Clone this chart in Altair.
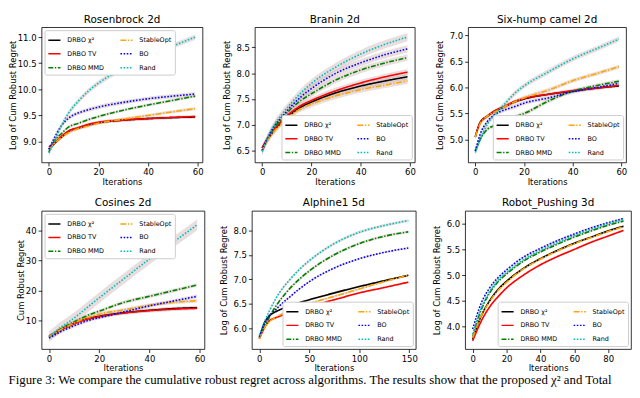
import altair as alt
import pandas as pd

# ---------------- data ----------------
METHODS = ["DRBO χ²", "DRBO TV", "DRBO MMD", "StableOpt", "BO", "Rand"]
COLORS = {"DRBO χ²": "#000000", "DRBO TV": "#ff0000", "DRBO MMD": "#008000",
          "StableOpt": "#ffa500", "BO": "#0000ff", "Rand": "#00bfbf"}
DASHES = {"DRBO χ²": [1, 0], "DRBO TV": [1, 0], "DRBO MMD": [5, 1.6, 1.4, 1.6],
          "StableOpt": [6, 1.6, 1.4, 1.6], "BO": [1.6, 1.6], "Rand": [1.6, 1.6]}

x60 = [0, 2, 5, 8, 12, 16, 20, 30, 40, 50, 59]

ros_chi2 = [8.85, 8.95, 9.08, 9.20, 9.26, 9.32, 9.36, 9.41, 9.44, 9.46, 9.47]
ros_tv = [8.90, 8.97, 9.10, 9.20, 9.27, 9.33, 9.37, 9.41, 9.44, 9.46, 9.48]
ros_mmd = [8.80, 9.00, 9.15, 9.28, 9.35, 9.42, 9.48, 9.60, 9.70, 9.79, 9.87]
ros_stable = [8.85, 8.95, 9.08, 9.17, 9.25, 9.30, 9.35, 9.43, 9.50, 9.57, 9.63]
ros_bo = [8.85, 9.05, 9.30, 9.45, 9.55, 9.61, 9.66, 9.75, 9.82, 9.87, 9.91]
ros_rand = [8.78, 8.98, 9.30, 9.55, 9.78, 9.97, 10.12, 10.40, 10.63, 10.83, 11.00]
ros_std = [0.03, 0.03, 0.03, 0.03, 0.04, 0.05]

bra_chi2 = [6.55, 6.70, 6.90, 7.05, 7.22, 7.35, 7.44, 7.62, 7.75, 7.85, 7.93]
bra_tv = [6.55, 6.72, 6.92, 7.08, 7.25, 7.38, 7.47, 7.66, 7.81, 7.93, 8.02]
bra_mmd = [6.50, 6.70, 6.95, 7.12, 7.32, 7.48, 7.60, 7.87, 8.06, 8.20, 8.30]
bra_stable = [6.50, 6.68, 6.88, 7.03, 7.20, 7.32, 7.40, 7.56, 7.68, 7.77, 7.85]
bra_bo = [6.50, 6.72, 6.98, 7.15, 7.37, 7.55, 7.70, 8.00, 8.20, 8.36, 8.47]
bra_rand = [6.48, 6.72, 7.00, 7.20, 7.43, 7.63, 7.80, 8.12, 8.37, 8.56, 8.70]
bra_std = [0.06, 0.06, 0.06, 0.06, 0.07, 0.08]

six_chi2 = [5.05, 5.33, 5.45, 5.55, 5.63, 5.72, 5.78, 5.87, 5.93, 5.99, 6.03]
six_tv = [5.05, 5.32, 5.45, 5.55, 5.64, 5.73, 5.79, 5.87, 5.94, 5.99, 6.04]
six_mmd = [4.78, 5.00, 5.20, 5.27, 5.35, 5.43, 5.50, 5.74, 5.93, 6.04, 6.12]
six_stable = [5.05, 5.30, 5.45, 5.53, 5.63, 5.72, 5.80, 5.95, 6.13, 6.27, 6.40]
six_bo = [4.78, 5.10, 5.35, 5.48, 5.57, 5.63, 5.70, 5.80, 5.92, 6.00, 6.08]
six_rand = [4.75, 5.00, 5.30, 5.48, 5.68, 5.88, 6.03, 6.30, 6.55, 6.75, 6.93]
six_std = [0.03, 0.03, 0.04, 0.04, 0.04, 0.05]

cos_chi2 = [4.5, 5.5, 7.0, 8.2, 9.6, 10.6, 11.3, 12.5, 13.3, 13.9, 14.2]
cos_tv = [4.5, 5.4, 6.9, 8.0, 9.5, 10.5, 11.2, 12.4, 13.2, 13.7, 14.0]
cos_mmd = [4.5, 5.6, 7.3, 8.6, 10.3, 11.8, 13.0, 16.0, 18.0, 20.0, 21.8]
cos_stable = [4.5, 5.5, 7.0, 8.2, 9.8, 11.0, 12.0, 13.5, 15.0, 16.0, 16.5]
cos_bo = [4.0, 4.9, 6.3, 7.4, 8.8, 10.0, 10.8, 12.8, 14.8, 16.5, 18.0]
cos_rand = [4.5, 5.8, 7.8, 9.5, 12.0, 14.8, 17.5, 24.0, 30.5, 36.5, 42.0]
cos_std = [0.6, 0.6, 0.6, 0.6, 0.6, 1.8]

x150 = [0, 5, 10, 15, 20, 30, 40, 50, 75, 100, 125, 149]
alp_chi2 = [5.80, 6.10, 6.25, 6.32, 6.37, 6.45, 6.52, 6.58, 6.72, 6.85, 6.97, 7.08]
alp_tv = [5.78, 6.00, 6.15, 6.20, 6.24, 6.31, 6.38, 6.44, 6.58, 6.72, 6.83, 6.94]
alp_mmd = [5.80, 6.02, 6.22, 6.40, 6.55, 6.80, 7.00, 7.17, 7.50, 7.73, 7.88, 7.97]
alp_stable = [5.78, 6.00, 6.13, 6.20, 6.26, 6.35, 6.43, 6.50, 6.65, 6.80, 6.95, 7.08]
alp_bo = [5.82, 6.08, 6.25, 6.35, 6.45, 6.63, 6.80, 6.95, 7.23, 7.42, 7.55, 7.64]
alp_rand = [5.85, 6.12, 6.35, 6.55, 6.72, 6.98, 7.20, 7.38, 7.73, 7.96, 8.10, 8.20]
alp_std = [0.02, 0.02, 0.03, 0.02, 0.02, 0.03]

x90 = [0, 5, 10, 15, 20, 30, 40, 50, 60, 70, 80, 89]
rob_chi2 = [3.75, 4.20, 4.50, 4.72, 4.88, 5.13, 5.32, 5.48, 5.62, 5.74, 5.86, 5.95]
rob_tv = [3.72, 4.10, 4.38, 4.58, 4.75, 5.00, 5.20, 5.36, 5.50, 5.64, 5.76, 5.87]
rob_mmd = [3.80, 4.32, 4.65, 4.87, 5.02, 5.27, 5.45, 5.60, 5.74, 5.86, 5.97, 6.05]
rob_stable = [3.78, 4.20, 4.48, 4.70, 4.86, 5.12, 5.31, 5.47, 5.61, 5.73, 5.85, 5.94]
rob_bo = [3.95, 4.45, 4.75, 4.95, 5.10, 5.35, 5.52, 5.67, 5.80, 5.92, 6.02, 6.10]
rob_rand = [3.85, 4.35, 4.68, 4.90, 5.05, 5.30, 5.48, 5.63, 5.77, 5.89, 6.00, 6.08]
rob_std = [0.02, 0.02, 0.02, 0.02, 0.02, 0.02]

CAPTION = ("Figure 3: We compare the cumulative robust regret across algorithms. "
           "The results show that the proposed χ² and Total")

BAND = "#c9a9a9"
FONT = "DejaVu Sans"


def panel(title, xs, series, stds, ydom, yticks, yfmt, xdom, xticks, ytitle,
          legend_orient, width, height, extent):
    rows = []
    for m, vals, s in zip(METHODS, series, stds):
        for x, v in zip(xs, vals):
            rows.append({"it": x, "val": v, "lo": v - s, "hi": v + s, "method": m})
    df = pd.DataFrame(rows)
    xenc = alt.X("it:Q", scale=alt.Scale(domain=xdom, nice=False, zero=False),
                 axis=alt.Axis(values=xticks, title="Iterations", format="d"))
    yscale = alt.Scale(domain=ydom, nice=False, zero=False)
    yaxis = alt.Axis(values=yticks, title=ytitle, format=yfmt, titlePadding=3,
                     minExtent=extent, maxExtent=extent)
    base = alt.Chart(df)
    band = base.mark_area(color=BAND, opacity=0.4, interpolate="monotone").encode(
        x=xenc,
        y=alt.Y("lo:Q", scale=yscale, axis=yaxis),
        y2="hi:Q",
        detail="method:N",
    )
    leg = alt.Legend(title=None, orient=legend_orient, columns=2, offset=3)
    lines = base.mark_line(strokeWidth=1.6, interpolate="monotone").encode(
        x=xenc,
        y=alt.Y("val:Q", scale=yscale, axis=yaxis),
        color=alt.Color("method:N",
                        scale=alt.Scale(domain=METHODS,
                                        range=[COLORS[m] for m in METHODS]),
                        legend=leg),
        strokeDash=alt.StrokeDash("method:N",
                                  scale=alt.Scale(domain=METHODS,
                                                  range=[DASHES[m] for m in METHODS]),
                                  legend=leg),
    )
    return alt.layer(band, lines).properties(
        width=width, height=height,
        title=alt.TitleParams(title, fontSize=10.5, fontWeight="normal", font=FONT, offset=2),
    )


LOG = "Log of Cum Robust Regret"
p1 = panel("Rosenbrock 2d", x60, [ros_chi2, ros_tv, ros_mmd, ros_stable, ros_bo, ros_rand],
           ros_std, [8.6, 11.19], [9.0, 9.5, 10.0, 10.5, 11.0], ".1f",
           [-2.95, 61.95], [0, 20, 40, 60], LOG, "top-left", 163, 137, 21)
p2 = panel("Branin 2d", x60, [bra_chi2, bra_tv, bra_mmd, bra_stable, bra_bo, bra_rand],
           bra_std, [6.27, 8.89], [6.5, 7.0, 7.5, 8.0, 8.5], ".1f",
           [-2.95, 61.95], [0, 20, 40, 60], LOG, "bottom-right", 162, 137, 21)
p3 = panel("Six-hump camel 2d", x60, [six_chi2, six_tv, six_mmd, six_stable, six_bo, six_rand],
           six_std, [4.56, 7.16], [5.0, 5.5, 6.0, 6.5, 7.0], ".1f",
           [-2.95, 61.95], [0, 20, 40, 60], LOG, "bottom-right", 160, 137, 21)
p4 = panel("Cosines 2d", x60, [cos_chi2, cos_tv, cos_mmd, cos_stable, cos_bo, cos_rand],
           cos_std, [0.3, 46.7], [10, 20, 30, 40], "d",
           [-2.95, 61.95], [0, 20, 40, 60], "Cum Robust Regret", "top-left", 165, 140, 13)
p5 = panel("Alphine1 5d", x150, [alp_chi2, alp_tv, alp_mmd, alp_stable, alp_bo, alp_rand],
           alp_std, [5.57, 8.40], [6.0, 6.5, 7.0, 7.5, 8.0], ".1f",
           [-7.45, 156.45], [0, 50, 100, 150], LOG, "bottom-right", 166, 140, 21)
p6 = panel("Robot_Pushing 3d", x90, [rob_chi2, rob_tv, rob_mmd, rob_stable, rob_bo, rob_rand],
           rob_std, [3.56, 6.25], [4.0, 4.5, 5.0, 5.5, 6.0], ".1f",
           [-4.45, 93.45], [0, 20, 40, 60, 80], LOG, "bottom-right", 168, 140, 21)


def indep(c):
    return c.resolve_scale(x="independent", y="independent", color="independent",
                           strokeDash="independent").resolve_legend(
        color="independent", strokeDash="independent")


row1 = indep(alt.hconcat(p1, p2, p3, spacing=18))
row2 = indep(alt.hconcat(p4, p5, p6, spacing=13))

chart = indep(alt.concat(row1, row2, columns=1, spacing=12, align="none")).properties(
    padding={"left": 0, "top": 4, "right": 0, "bottom": 0},
    title=alt.TitleParams(CAPTION, orient="bottom", anchor="start", font="Liberation Serif",
                          fontSize=13, fontWeight="normal", offset=1, baseline="top"),
).configure(font=FONT).configure_view(
    stroke="black", strokeWidth=0.8
).configure_axis(
    grid=False, domain=False, tickColor="black", tickSize=3.5, tickWidth=0.8,
    labelFont=FONT, labelFontSize=8.6, labelColor="black", labelPadding=2,
    titleFont=FONT, titleFontSize=8.5, titleFontWeight="normal", titleColor="black",
    titlePadding=1,
).configure_legend(
    labelFont=FONT, labelFontSize=6.5, labelColor="black", symbolType="stroke",
    symbolStrokeWidth=1.5, symbolSize=150, padding=3, rowPadding=3, columnPadding=12,
    labelOffset=6, fillColor="white", strokeColor="#cccccc", cornerRadius=2,
)

chart.save("out.html", embed_options={"renderer": "svg", "actions": False})
